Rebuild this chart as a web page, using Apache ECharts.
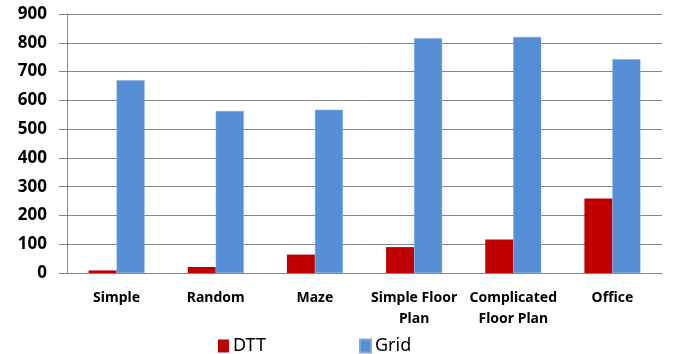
<!DOCTYPE html>
<html>
<head>
<meta charset="UTF-8">
<script src="https://cdn.jsdelivr.net/npm/echarts@6/dist/echarts.min.js"></script>
</head>
<body style="margin:0">
<div id="chart" style="width:675px;height:354px;"></div>
<script>
// data
let categories = ['Simple', 'Random', 'Maze', 'Simple Floor\nPlan', 'Complicated\nFloor Plan', 'Office'];
let dttValues = [9, 21, 64, 90, 116, 259];
let gridValues = [670, 563, 567, 816, 820, 743];
let yTicks = [0, 100, 200, 300, 400, 500, 600, 700, 800, 900];

let chart = echarts.init(document.getElementById('chart'));
let font = 'Noto Sans';
let option = {
    animation: false,
    grid: { left: 67, right: 13, top: 14, bottom: 81 },
    legend: {
        left: 213,
        top: 332,
        itemWidth: 11,
        itemHeight: 13,
        itemGap: 93,
        icon: 'rect',
        textStyle: { fontFamily: font, fontSize: 18, color: '#000', padding: [0, 0, 0, -1] },
        data: ['DTT', 'Grid']
    },
    xAxis: {
        type: 'category',
        data: categories,
        axisLine: { lineStyle: { color: '#868686' } },
        axisTick: { length: 5, lineStyle: { color: '#868686' } },
        axisLabel: {
            interval: 0,
            margin: 15,
            fontFamily: font,
            fontWeight: 'bold',
            fontSize: 14,
            lineHeight: 21,
            color: '#000'
        }
    },
    yAxis: {
        type: 'value',
        min: yTicks[0],
        max: yTicks[yTicks.length - 1],
        interval: 100,
        axisLine: { show: true, lineStyle: { color: '#868686' } },
        axisTick: { show: true, length: 8, lineStyle: { color: '#868686' } },
        splitLine: { lineStyle: { color: '#868686' } },
        axisLabel: {
            margin: 20,
            fontFamily: font,
            fontWeight: 'bold',
            fontSize: 17,
            color: '#000'
        }
    },
    series: [
        {
            name: 'DTT',
            type: 'bar',
            data: dttValues,
            barWidth: 28,
            barGap: '0%',
            itemStyle: { color: '#C00000' }
        },
        {
            name: 'Grid',
            type: 'bar',
            data: gridValues,
            barWidth: 28,
            itemStyle: { color: '#558ED5', borderColor: '#7fa9e0', borderWidth: 0.5 }
        }
    ]
};
chart.setOption(option);
</script>
</body>
</html>
